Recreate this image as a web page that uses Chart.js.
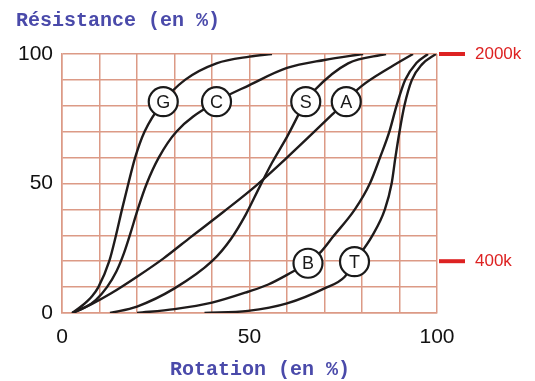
<!DOCTYPE html>
<html>
<head>
<meta charset="utf-8">
<script src="https://cdn.jsdelivr.net/npm/chart.js@4.4.1/dist/chart.umd.min.js"></script>
<style>
  body { margin: 0; background: #fff; }
  #wrap { position: relative; width: 535px; height: 381px; }
  .axis-title { position: absolute; font: bold 20px "Liberation Mono", "Courier New", monospace; line-height: 20px; color: #4a4aaa; white-space: pre; }
</style>
</head>
<body>
<div id="wrap">
  <canvas id="chart" width="535" height="381"></canvas>
  <div class="axis-title" style="left:16px; top:11px">Résistance (en %)</div>
  <div class="axis-title" style="left:170px; top:360px">Rotation (en %)</div>
</div>
<script>
// courbes (rotation %, résistance %)
const gX = [2.7, 5.5, 8, 9.7, 12.6, 14.4, 16, 17.7, 19.5, 22, 27, 32.8, 41.2, 50, 56];
const gY = [0, 3, 6.5, 10, 20, 30, 40, 50, 60, 70, 81.6, 90, 96.4, 99, 100];
const cX = [2.7, 6, 9, 12, 14.5, 16.5, 18.3, 20.2, 22.6, 25.8, 30.5, 41.2, 50, 60, 70, 80.3];
const cY = [0, 2, 5, 10, 16, 23, 31, 40, 50, 60, 70, 81.6, 88, 94.6, 97.7, 100];
const aX = [2.7, 8, 13, 20, 27, 34.5, 43, 52, 60, 72.4, 79.7, 87.7, 93.6];
const aY = [0, 3.5, 7.5, 14, 21, 29.5, 39, 49.5, 60, 77.1, 87.4, 95, 100];
const sX = [12.8, 20, 30, 40, 45, 49, 52.8, 56, 60, 65, 67.4, 76.3, 86.4];
const sY = [0, 2.5, 9.5, 20, 28.5, 38, 49, 58, 68, 81.6, 86.1, 96.4, 100];
const bX = [20, 30, 40, 49.6, 55, 61.6, 65.6, 69.1, 72.3, 78.1, 82.1, 84.8, 87.3, 89.2, 91.5, 94.5, 97.6];
const bY = [0, 1.5, 4, 8.2, 11, 16, 19.2, 23.7, 29.5, 40, 50, 60, 70, 80, 90, 96.5, 100];
const tX = [38, 49.6, 60, 70, 75.4, 78, 82.6, 86.1, 87.9, 88.9, 90, 91.3, 93.3, 96, 99.7];
const tY = [0, 0.8, 3.7, 9.5, 14, 19.8, 29.5, 40, 50, 60, 70, 80, 90, 96, 100];

// étiquettes rondes sur les courbes
const tagNames = ["G", "C", "S", "A", "B", "T"];
const tagX = [27, 41.2, 65, 75.8, 65.6, 78];
const tagY = [81.6, 81.6, 81.6, 81.6, 19.2, 19.8];

// repères rouges à droite
const markVals = [100, 20];
const markLabels = ["2000k", "400k"];

const shownTicks = [0, 50, 100];
const gridColor = "#dc9a86";
const curveColor = "#1f1b1b";

const pts = (xs, ys) => xs.map((x, i) => ({ x, y: ys[i] }));

const curve = (xs, ys) => ({
  data: pts(xs, ys),
  showLine: true,
  borderColor: curveColor,
  borderWidth: 2.4,
  pointRadius: 0,
  cubicInterpolationMode: "monotone",
  order: 2,
});

const tagPlugin = {
  id: "tags",
  afterDatasetsDraw(chart) {
    const ctx = chart.ctx;
    const meta = chart.getDatasetMeta(6);
    ctx.save();
    ctx.fillStyle = "#1a1a1a";
    ctx.font = '18px "Liberation Sans", Arial, sans-serif';
    ctx.textAlign = "center";
    ctx.textBaseline = "middle";
    meta.data.forEach((el, i) => ctx.fillText(tagNames[i], el.x, el.y + 1));
    ctx.restore();
  },
  afterDraw(chart) {
    const ctx = chart.ctx;
    const { right } = chart.chartArea;
    const y = chart.scales.y;
    ctx.save();
    ctx.strokeStyle = "#dd2222";
    ctx.fillStyle = "#dd2222";
    ctx.lineWidth = 4;
    ctx.font = '17px "Liberation Sans", Arial, sans-serif';
    ctx.textBaseline = "middle";
    markVals.forEach((v, i) => {
      const py = y.getPixelForValue(v);
      ctx.beginPath();
      ctx.moveTo(right + 2, py);
      ctx.lineTo(right + 28, py);
      ctx.stroke();
      ctx.fillText(markLabels[i], right + 38, py);
    });
    ctx.restore();
  },
};

new Chart(document.getElementById("chart"), {
  type: "scatter",
  data: {
    datasets: [
      curve(gX, gY), curve(cX, cY), curve(sX, sY), curve(aX, aY), curve(bX, bY), curve(tX, tY),
      {
        data: pts(tagX, tagY),
        pointRadius: 14.5,
        pointBackgroundColor: "#fff",
        pointBorderColor: "#1a1a1a",
        pointBorderWidth: 2.2,
        showLine: false,
        order: 1,
      },
    ],
  },
  options: {
    responsive: false,
    animation: false,
    devicePixelRatio: 1,
    layout: { padding: { top: 54, right: 98, bottom: 0, left: 0 } },
    plugins: { legend: { display: false }, tooltip: { enabled: false } },
    scales: {
      x: {
        type: "linear", min: 0, max: 100,
        afterFit: s => { s.height = 68; },
        ticks: {
          stepSize: 10, padding: 12, maxRotation: 0, autoSkip: false,
          color: "#111", font: { family: "Liberation Sans", size: 21 },
          callback: v => shownTicks.includes(v) ? String(v) : "",
        },
        grid: { color: gridColor, lineWidth: 1.5, drawTicks: false },
        border: { color: gridColor, width: 1.5 },
      },
      y: {
        type: "linear", min: 0, max: 100,
        afterFit: s => { s.width = 62; },
        ticks: {
          stepSize: 10, padding: 9, autoSkip: false,
          color: "#111", font: { family: "Liberation Sans", size: 21 },
          callback: v => shownTicks.includes(v) ? String(v) : "",
        },
        grid: { color: gridColor, lineWidth: 1.5, drawTicks: false },
        border: { color: gridColor, width: 1.5 },
      },
    },
  },
  plugins: [tagPlugin],
});
</script>
</body>
</html>
